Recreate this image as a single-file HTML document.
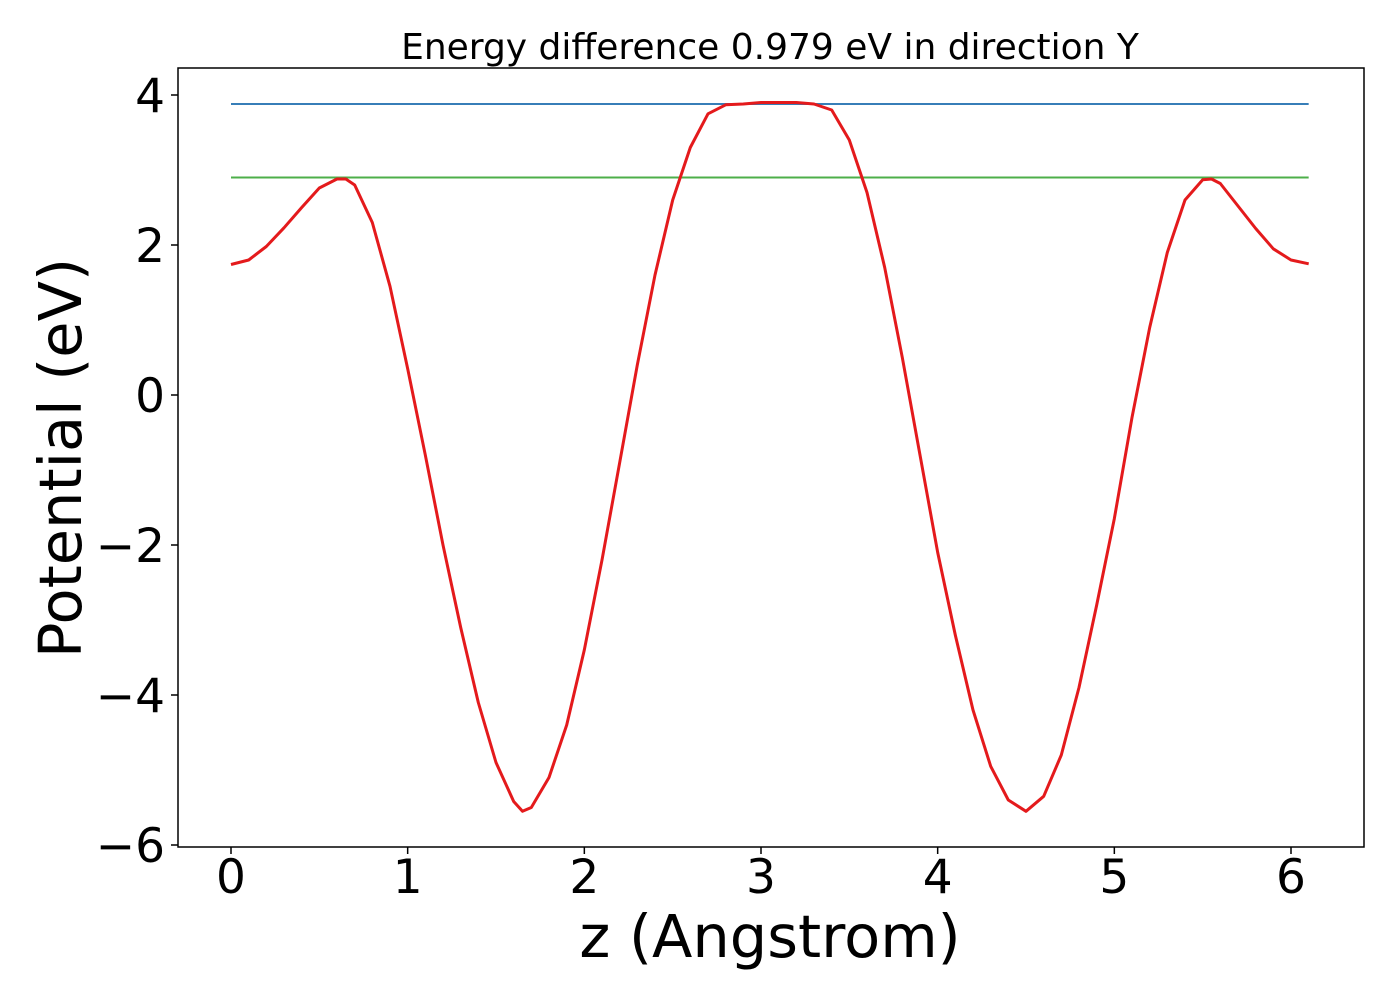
<!DOCTYPE html>
<html><head><meta charset="utf-8"><style>
body{margin:0;background:#fff;}
svg text{font-family:"DejaVu Sans","Liberation Sans",sans-serif;fill:#000;}
</style></head><body>
<svg id="chart" width="1400" height="1000" xmlns="http://www.w3.org/2000/svg">
<text x="770" y="59" font-size="36" text-anchor="middle">Energy difference 0.979 eV in direction Y</text>
<g id="plot"></g>
<rect x="178" y="68" width="1186" height="779" fill="none" stroke="#000" stroke-width="1.5"/>
<text x="770" y="957" font-size="59" text-anchor="middle">z (Angstrom)</text>
<text transform="translate(81,458) rotate(-90)" font-size="59" text-anchor="middle">Potential (eV)</text>
</svg>
<script>
const zValues=[0,0.1,0.2,0.3,0.4,0.5,0.6,0.65,0.7,0.8,0.9,1.0,1.1,1.2,1.3,1.4,1.5,1.6,1.65,1.7,1.8,1.9,2.0,2.1,2.2,2.3,2.4,2.5,2.6,2.7,2.8,2.9,3.0,3.1,3.2,3.3,3.4,3.5,3.6,3.7,3.8,3.9,4.0,4.1,4.2,4.3,4.4,4.5,4.6,4.7,4.8,4.9,5.0,5.1,5.2,5.3,5.4,5.5,5.55,5.6,5.7,5.8,5.9,6.0,6.1];
const potential=[1.74,1.8,1.98,2.23,2.5,2.76,2.88,2.88,2.8,2.3,1.45,0.35,-0.8,-2.0,-3.1,-4.1,-4.9,-5.42,-5.55,-5.5,-5.1,-4.4,-3.4,-2.2,-0.9,0.4,1.6,2.6,3.3,3.75,3.87,3.88,3.9,3.9,3.9,3.88,3.8,3.4,2.7,1.7,0.5,-0.8,-2.1,-3.2,-4.2,-4.95,-5.4,-5.55,-5.35,-4.8,-3.9,-2.8,-1.65,-0.3,0.9,1.9,2.6,2.87,2.88,2.82,2.52,2.22,1.95,1.8,1.75];
const blueLevel=[3.88];
const greenLevel=[2.9];
const xTicks=[0,1,2,3,4,5,6];
const yTicks=[4,2,0,-2,-4,-6];
const yTickLabels=["4","2","0","\u22122","\u22124","\u22126"];
const NS="http://www.w3.org/2000/svg";
function xs(v){return 231+v*(1291-231)/6;}
function ys(v){return 395-v*75;}
const g=document.getElementById('plot');
function mk(t,a){const e=document.createElementNS(NS,t);for(const k in a)e.setAttribute(k,a[k]);g.appendChild(e);return e;}
xTicks.forEach(t=>{
  const l=mk('line',{x1:xs(t),x2:xs(t),y1:847,y2:854,stroke:'#000','stroke-width':1.5});
  
  
  const tx=mk('text',{x:xs(t),y:893,'font-size':47,'text-anchor':'middle'});
  tx.textContent=String(t);
  
  
});
yTicks.forEach((t,i)=>{
  const l=mk('line',{x1:171,x2:178,y1:ys(t),y2:ys(t),stroke:'#000','stroke-width':1.5});
  
  
  const tx=mk('text',{x:165,y:ys(t)+17,'font-size':47,'text-anchor':'end'});
  tx.textContent=yTickLabels[i];
  
  
});
const x0=zValues[0],x1=zValues[zValues.length-1];
const bl=mk('line',{x1:xs(x0),x2:xs(x1),y1:ys(blueLevel[0]),y2:ys(blueLevel[0]),stroke:'#377eb8','stroke-width':2});


const gl=mk('line',{x1:xs(x0),x2:xs(x1),y1:ys(greenLevel[0]),y2:ys(greenLevel[0]),stroke:'#4daf4a','stroke-width':2});


const pts=zValues.map((z,i)=>xs(z).toFixed(1)+','+ys(potential[i]).toFixed(1)).join(' ');
const pl=mk('polyline',{points:pts,fill:'none',stroke:'#e41a1c','stroke-width':3,'stroke-linejoin':'round'});


</script>
</body></html>
